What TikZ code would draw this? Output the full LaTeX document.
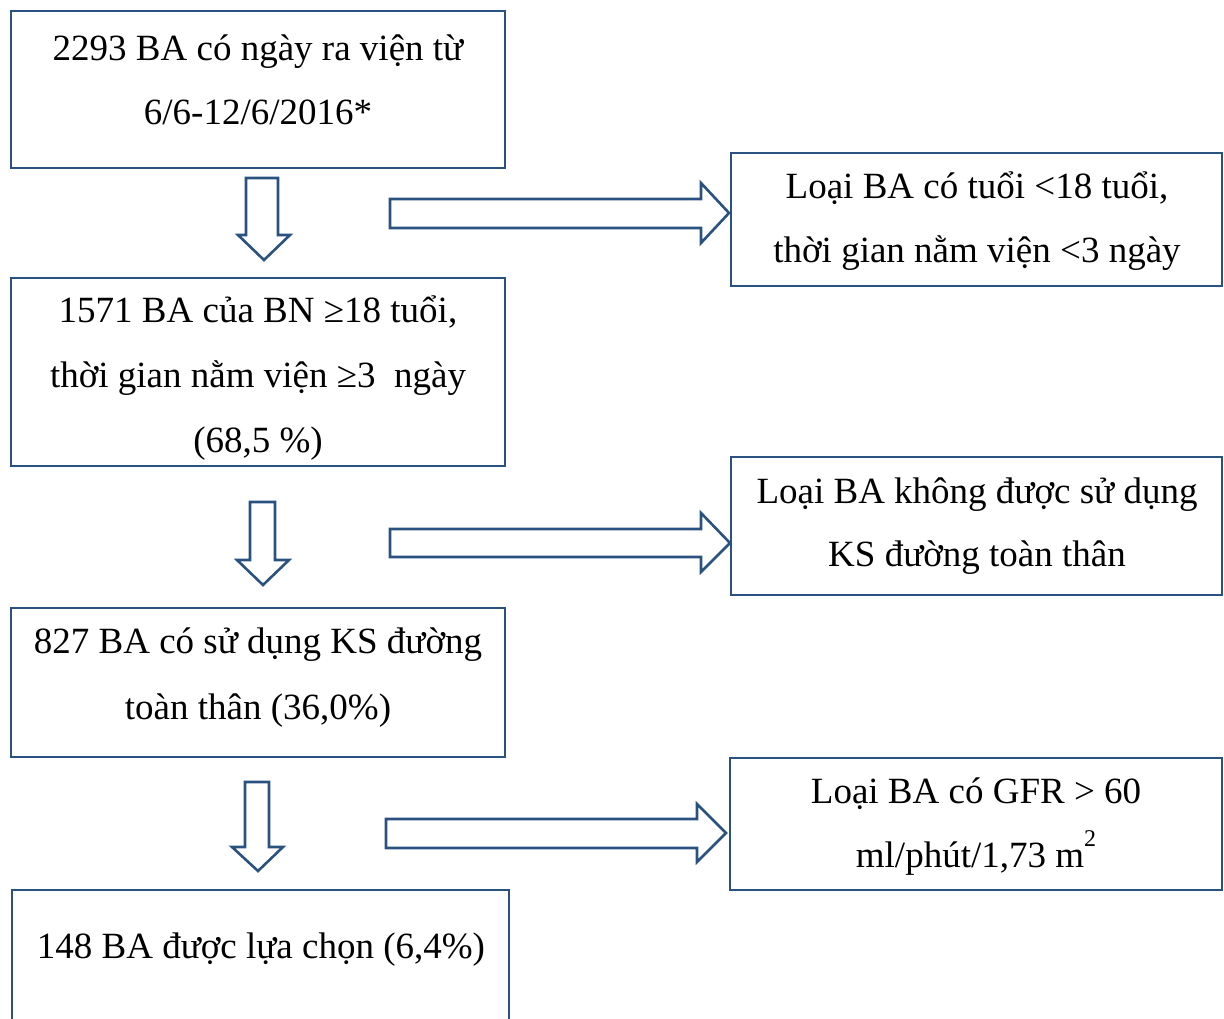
\documentclass[tikz,border=0pt]{standalone}
\usepackage{fontspec}
\setmainfont{Liberation Serif}
\definecolor{lineblue}{RGB}{42,82,128}
\begin{document}
\begin{tikzpicture}[x=1pt,y=-1pt,
  box/.style={draw=lineblue,line width=2.6pt,fill=none},
  blockarrow/.style={draw=lineblue,line width=2.6pt,line join=miter,fill=white},
  txt/.style={anchor=base,inner sep=0pt,font=\fontsize{37}{64}\selectfont}]
\useasboundingbox (0,0) rectangle (1224,1019);
\clip (0,0) rectangle (1224,1019);
% boxes
\draw[box] (11,11) rectangle (505,168);
\draw[box] (11,278) rectangle (505,466);
\draw[box] (11,608) rectangle (505,757);
\draw[box] (12,890) rectangle (509,1040);
\draw[box] (731,153) rectangle (1222,286);
\draw[box] (731,457) rectangle (1222,595);
\draw[box] (730,758) rectangle (1222,890);
% texts
\node[txt] (t1a) at (258,61) {2293 BA có ngày ra viện từ};
\node[txt] (t1b) at (258,125) {6/6-12/6/2016*};
\node[txt] (t2a) at (258,323) {1571 BA của BN ≥18 tuổi,};
\node[txt] (t2b) at (258,387) {thời gian nằm viện ≥3\ \ ngày};
\node[txt] (t2c) at (258,452) {(68,5 \%)};
\node[txt] (t3a) at (258,653) {827 BA có sử dụng KS đường};
\node[txt] (t3b) at (258,719) {toàn thân (36,0\%)};
\node[txt] (t4) at (261,958) {148 BA được lựa chọn (6,4\%)};
\node[txt] (r1a) at (977,199) {Loại BA có tuổi <18 tuổi,};
\node[txt] (r1b) at (977,262) {thời gian nằm viện <3 ngày};
\node[txt] (r2a) at (977,503) {Loại BA không được sử dụng};
\node[txt] (r2b) at (977,566) {KS đường toàn thân};
\node[txt] (r3a) at (976,803) {Loại BA có GFR > 60};
\node[txt] (r3b) at (976,867) {ml/phút/1,73 m\raisebox{0.55em}{\fontsize{24}{24}\selectfont 2}};
% down arrows
\draw[blockarrow] (246,178) -- (278,178) -- (278,235) -- (290,235) -- (264,260) -- (238,235) -- (246,235) -- cycle;
\draw[blockarrow] (250,502) -- (275,502) -- (275,560) -- (289,560) -- (263,585) -- (237,560) -- (250,560) -- cycle;
\draw[blockarrow] (245,782) -- (269,782) -- (269,847) -- (283,847) -- (258,871) -- (232,847) -- (245,847) -- cycle;
% right arrows
\draw[blockarrow] (390,199) -- (701,199) -- (701,183) -- (729,213) -- (701,243) -- (701,228) -- (390,228) -- cycle;
\draw[blockarrow] (390,529) -- (701,529) -- (701,513) -- (730,543) -- (701,572) -- (701,557) -- (390,557) -- cycle;
\draw[blockarrow] (386,819) -- (697,819) -- (697,804) -- (726,833) -- (697,862) -- (697,848) -- (386,848) -- cycle;
\end{tikzpicture}
\end{document}
